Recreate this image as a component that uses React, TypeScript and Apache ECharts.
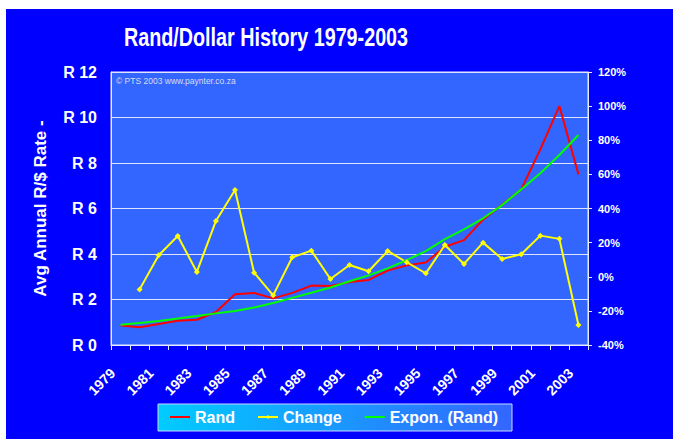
import React, { useEffect, useRef } from 'react';
import * as echarts from 'echarts';

const years = ['1979','1980','1981','1982','1983','1984','1985','1986','1987','1988','1989','1990','1991','1992','1993','1994','1995','1996','1997','1998','1999','2000','2001','2002','2003'];
const rand = [0.86, 0.78, 0.92, 1.07, 1.11, 1.45, 2.23, 2.29, 2.05, 2.29, 2.61, 2.59, 2.77, 2.86, 3.27, 3.50, 3.63, 4.32, 4.61, 5.51, 6.17, 6.84, 8.60, 10.50, 7.50];
const change = [null, -7.4, 12.6, 23.9, 2.8, 32.7, 50.9, 2.4, -10.9, 11.4, 15.3, -1.3, 6.9, 3.2, 15.1, 8.5, 2.0, 18.6, 7.5, 20.0, 10.4, 13.2, 24.1, 22.2, -28.3];
const expon = [0.89, 0.97, 1.05, 1.16, 1.27, 1.39, 1.49, 1.65, 1.85, 2.07, 2.30, 2.53, 2.80, 3.06, 3.37, 3.73, 4.13, 4.65, 5.08, 5.57, 6.15, 6.84, 7.55, 8.35, 9.23];
const seriesNames = ['Rand', 'Change', 'Expon. (Rand)'];
const titleText = 'Rand/Dollar History 1979-2003';
const yAxisName = 'Avg Annual R/$ Rate -';
const credit = '\u00A9 PTS 2003 www.paynter.co.za';

const FONT = "'Liberation Sans', Arial, sans-serif";

export default function App() {
  const ref = useRef<HTMLDivElement>(null);
  useEffect(() => {
    document.body.style.margin = '0';
    const chart = echarts.init(ref.current!, null, { renderer: 'svg' });
    chart.setOption({
      animation: false,
      backgroundColor: '#0000FF',
      textStyle: { fontFamily: FONT },
      graphic: [
        { type: 'rect', shape: { x: 0, y: 0, width: 673, height: 9 }, style: { fill: '#ffffff' }, silent: true },
        { type: 'rect', shape: { x: 0, y: 0, width: 6, height: 439 }, style: { fill: '#ffffff' }, silent: true },
        {
          type: 'text', x: 266, y: 38, scaleX: 0.79, silent: true,
          style: { text: titleText, align: 'center', verticalAlign: 'middle', fill: '#ffffff', fontSize: 25, fontWeight: 'bold', fontFamily: FONT },
        },
        {
          type: 'text', x: 116, y: 80.5, silent: true, z: 10,
          style: { text: credit, align: 'left', verticalAlign: 'middle', fill: '#d8dcf0', fontSize: 8.5, fontFamily: FONT },
        },
        {
          type: 'rect', silent: true,
          shape: { x: 158, y: 404, width: 354, height: 27 },
          style: {
            fill: new echarts.graphic.LinearGradient(0, 0, 1, 0, [
              { offset: 0, color: '#00CCFF' },
              { offset: 1, color: '#3366FF' },
            ]),
            stroke: '#c8d8ff', lineWidth: 1,
          },
        },
      ],
      legend: {
        left: 169, top: 409, padding: 0,
        itemWidth: 20, itemHeight: 5, itemGap: 22,
        data: [
          { name: seriesNames[0], itemStyle: { opacity: 0 } },
          { name: seriesNames[1] },
          { name: seriesNames[2], itemStyle: { opacity: 0 } },
        ],
        textStyle: { color: '#ffffff', fontSize: 16, fontWeight: 'bold', fontFamily: FONT },
      },
      grid: {
        left: 111, top: 72, right: 85, bottom: 94,
        show: true, backgroundColor: '#3366FF', borderColor: '#e6ebff', borderWidth: 1,
      },
      xAxis: {
        type: 'category', data: years, boundaryGap: true,
        axisLine: { lineStyle: { color: '#e6ebff', width: 1 } },
        axisTick: { show: true, interval: 0, length: 5, lineStyle: { color: '#e6ebff' } },
        axisLabel: { interval: 1, rotate: 45, margin: 18, padding: [0, 11, 0, 0], color: '#ffffff', fontSize: 14, fontWeight: 'bold', fontFamily: FONT },
        splitLine: { show: false },
      },
      yAxis: [
        {
          type: 'value', min: 0, max: 12, interval: 2,
          name: yAxisName, nameLocation: 'middle', nameGap: 62, nameRotate: 90,
          nameTextStyle: { color: '#ffffff', fontSize: 17, fontWeight: 'bold', fontFamily: FONT },
          axisLine: { show: true, lineStyle: { color: '#e6ebff' } },
          axisTick: { show: false },
          axisLabel: { formatter: (v: number) => 'R ' + v, margin: 14, color: '#ffffff', fontSize: 16, fontWeight: 'bold', fontFamily: FONT },
          splitLine: { show: true, lineStyle: { color: '#dfe5ff', width: 1 } },
        },
        {
          type: 'value', min: -40, max: 120, interval: 20, position: 'right',
          axisLine: { show: true, lineStyle: { color: '#e6ebff' } },
          axisTick: { show: true, length: 4, lineStyle: { color: '#e6ebff' } },
          axisLabel: { formatter: (v: number) => v + '%', margin: 10, color: '#ffffff', fontSize: 11, fontWeight: 'bold', fontFamily: FONT },
          splitLine: { show: false },
        },
      ],
      series: [
        {
          name: seriesNames[0], type: 'line', data: rand, yAxisIndex: 0,
          symbol: 'none', lineStyle: { color: '#FF0000', width: 2 }, itemStyle: { color: '#FF0000' },
        },
        {
          name: seriesNames[1], type: 'line', data: change, yAxisIndex: 1,
          symbol: 'diamond', symbolSize: 6, lineStyle: { color: '#FFFF00', width: 2 }, itemStyle: { color: '#FFFF00' },
        },
        {
          name: seriesNames[2], type: 'line', data: expon, yAxisIndex: 0,
          symbol: 'none', lineStyle: { color: '#00FF00', width: 2 }, itemStyle: { color: '#00FF00' },
        },
      ],
    });
    return () => chart.dispose();
  }, []);
  return <div ref={ref} style={{ width: 673, height: 439 }} />;
}
